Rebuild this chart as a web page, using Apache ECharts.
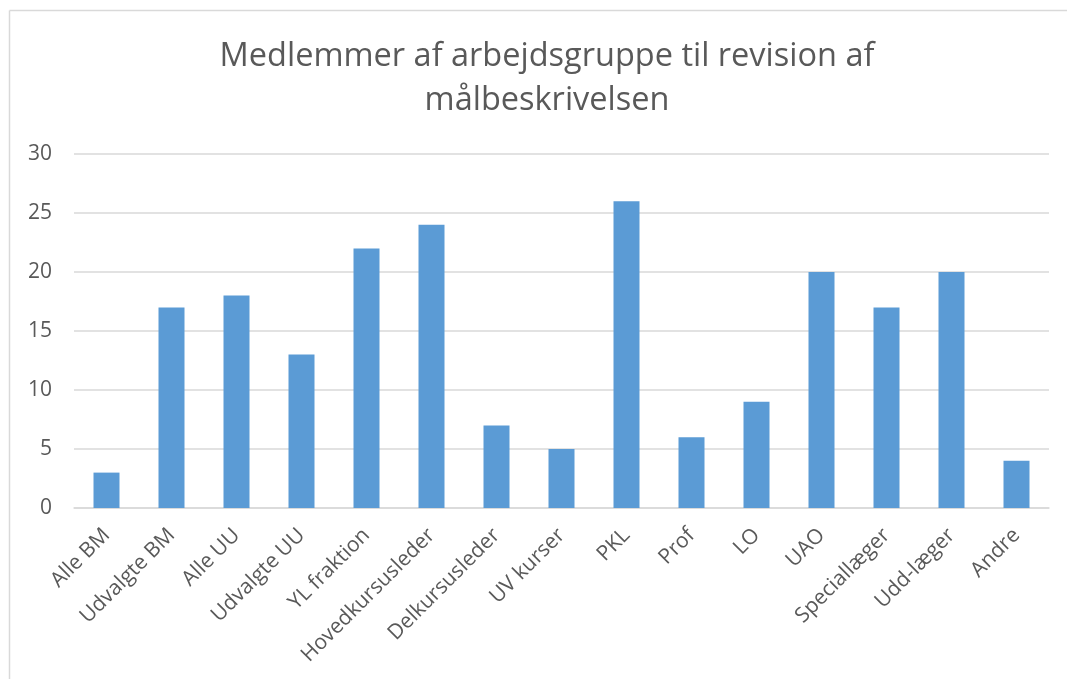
<!DOCTYPE html>
<html>
<head>
<meta charset="utf-8">
<script src="https://cdn.jsdelivr.net/npm/echarts@6/dist/echarts.min.js"></script>
<style>
  html, body { margin: 0; padding: 0; background: #fff; }
  #main { width: 1067px; height: 679px; }
</style>
</head>
<body>
<div id="main"></div>
<script>
// data
var categories = ['Alle BM', 'Udvalgte BM', 'Alle UU', 'Udvalgte UU', 'YL fraktion', 'Hovedkursusleder',
  'Delkursusleder', 'UV kurser', 'PKL', 'Prof', 'LO', 'UAO', 'Speciallæger', 'Udd-læger', 'Andre'];
var members = [3, 17, 18, 13, 22, 24, 7, 5, 26, 6, 9, 20, 17, 20, 4];
var titleText = 'Medlemmer af arbejdsgruppe til revision af\nmålbeskrivelsen';

var chartDom = document.getElementById('main');
var myChart = echarts.init(chartDom);
var option;

option = {
  backgroundColor: '#fff',
  textStyle: { fontFamily: 'Open Sans' },
  title: {
    text: titleText,
    left: 542,
    textAlign: 'center',
    top: 30,
    textStyle: {
      fontFamily: 'Open Sans',
      fontSize: 32.5,
      fontWeight: 'normal',
      color: '#595959',
      lineHeight: 44
    }
  },
  graphic: [
    // outer chart frame (left + top edges)
    { type: 'line', shape: { x1: 9.5, y1: 10.5, x2: 9.5, y2: 679 }, style: { stroke: '#d9d9d9', lineWidth: 1.5 } },
    { type: 'line', shape: { x1: 9.5, y1: 10.5, x2: 1067, y2: 10.5 }, style: { stroke: '#d9d9d9', lineWidth: 1.5 } }
  ],
  grid: {
    left: 74,
    right: 18,
    top: 154,
    bottom: 171,
    containLabel: false
  },
  xAxis: {
    type: 'category',
    data: categories,
    axisLine: { lineStyle: { color: '#d9d9d9', width: 1.5 } },
    axisTick: { show: false },
    axisLabel: {
      interval: 0,
      rotate: 45,
      fontSize: 21,
      color: '#595959',
      margin: 24
    }
  },
  yAxis: {
    type: 'value',
    min: 0,
    max: 30,
    interval: 5,
    axisLine: { show: false },
    axisTick: { show: false },
    splitLine: { lineStyle: { color: '#d9d9d9', width: 1.5 } },
    axisLabel: { fontSize: 21, color: '#595959', margin: 22 }
  },
  series: [
    {
      name: 'Medlemmer',
      type: 'bar',
      barWidth: '40%',
      data: members,
      itemStyle: { color: '#5b9bd5' },
      silent: true
    }
  ]
};

option && myChart.setOption(option);
</script>
</body>
</html>
